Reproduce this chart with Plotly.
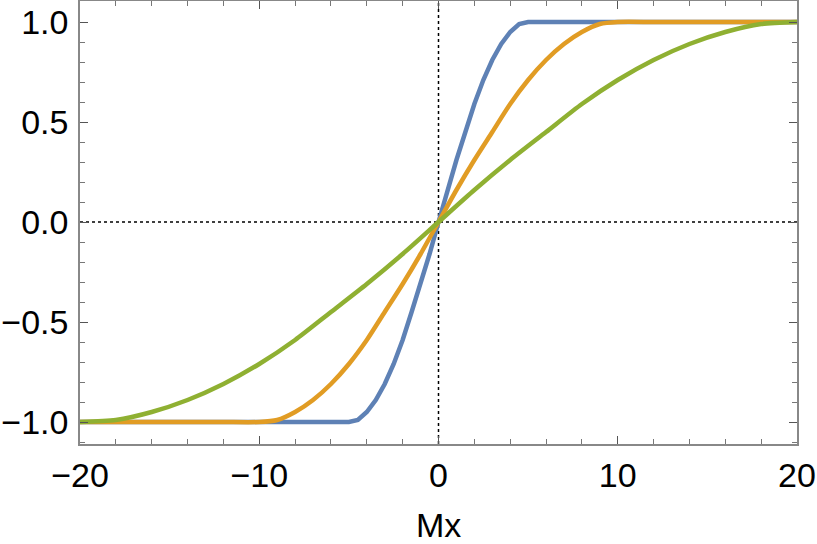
import plotly.graph_objects as go

# values
x_blue = [-20, -5, -4.5, -4, -3.5, -3, -2.5, -2, -1.5, -1, -0.5, 0,
          0.5, 1, 1.5, 2, 2.5, 3, 3.5, 4, 4.5, 5, 20]
y_blue = [-1.0, -1.0, -0.99, -0.95, -0.89, -0.81, -0.71, -0.59, -0.45, -0.31, -0.16, 0.0,
          0.16, 0.31, 0.45, 0.59, 0.71, 0.81, 0.89, 0.95, 0.99, 1.0, 1.0]

x_orange = [-20, -18, -16, -14, -12, -10, -9, -8, -7, -6, -5, -4, -3, -2, -1, 0,
            1, 2, 3, 4, 5, 6, 7, 8, 9, 10, 12, 14, 16, 18, 20]
y_orange = [-1.0, -1.0, -1.0, -1.0, -1.0, -1.0, -0.99, -0.95, -0.89, -0.81, -0.71, -0.59,
            -0.45, -0.31, -0.16, 0.0,
            0.16, 0.31, 0.45, 0.59, 0.71, 0.81, 0.89, 0.95, 0.99, 1.0, 1.0, 1.0, 1.0, 1.0, 1.0]

x_green = [-20, -18, -16, -14, -12, -10, -8, -6, -4, -2, 0,
           2, 4, 6, 8, 10, 12, 14, 16, 18, 20]
y_green = [-1.0, -0.99, -0.95, -0.89, -0.81, -0.71, -0.59, -0.45, -0.31, -0.16, 0.0,
           0.16, 0.31, 0.45, 0.59, 0.71, 0.81, 0.89, 0.95, 0.99, 1.0]

series = [
    (x_blue, y_blue, '#5E81B5', 'linear'),
    (x_orange, y_orange, '#E19C24', 'spline'),
    (x_green, y_green, '#8FB032', 'spline'),
]

fig = go.Figure()
for xs, ys, col, shp in series:
    fig.add_trace(go.Scatter(x=xs, y=ys, mode='lines',
                             line=dict(color=col, width=4.5, shape=shp, smoothing=0.7),
                             showlegend=False))

# dotted axes through the origin
fig.add_vline(x=0, line=dict(color='black', width=1.5, dash='dot'), layer='below')
fig.add_hline(y=0, line=dict(color='black', width=1.5, dash='dot'), layer='below')

axis_style = dict(
    showline=True, linecolor='#888888', linewidth=1.5, mirror='allticks',
    ticks='inside', ticklen=8, tickwidth=1, tickcolor='#555555',
    showgrid=False, zeroline=False, automargin=False, ticklabeloverflow='allow',
    tickfont=dict(family='Liberation Sans', size=34, color='black'),
)

fig.update_xaxes(range=[-20, 20], dtick=10, tick0=0,
                 minor=dict(dtick=2, ticks='inside', ticklen=5, tickcolor='#777777'),
                 **axis_style)
fig.update_yaxes(range=[-1.11, 1.105], dtick=0.5, tick0=0, tickformat='.1f',
                 minor=dict(dtick=0.1, ticks='inside', ticklen=5, tickcolor='#777777'),
                 ticklabelstandoff=3,
                 **axis_style)

# x-axis label placed as an annotation so it can sit lower than the title standoff allows
fig.add_annotation(text='Mx', xref='paper', yref='paper', x=0.5, y=-0.183,
                   yanchor='middle', showarrow=False,
                   font=dict(family='Liberation Sans', size=34, color='black'))

fig.update_layout(
    width=817, height=544,
    margin=dict(l=80, r=20, t=1, b=100),
    plot_bgcolor='white', paper_bgcolor='white',
)

# page body has a default 8px margin; remove it so the figure sits at the corner
fig.write_html("out.html", config={'displayModeBar': False},
               post_script="document.body.style.margin='0';")
